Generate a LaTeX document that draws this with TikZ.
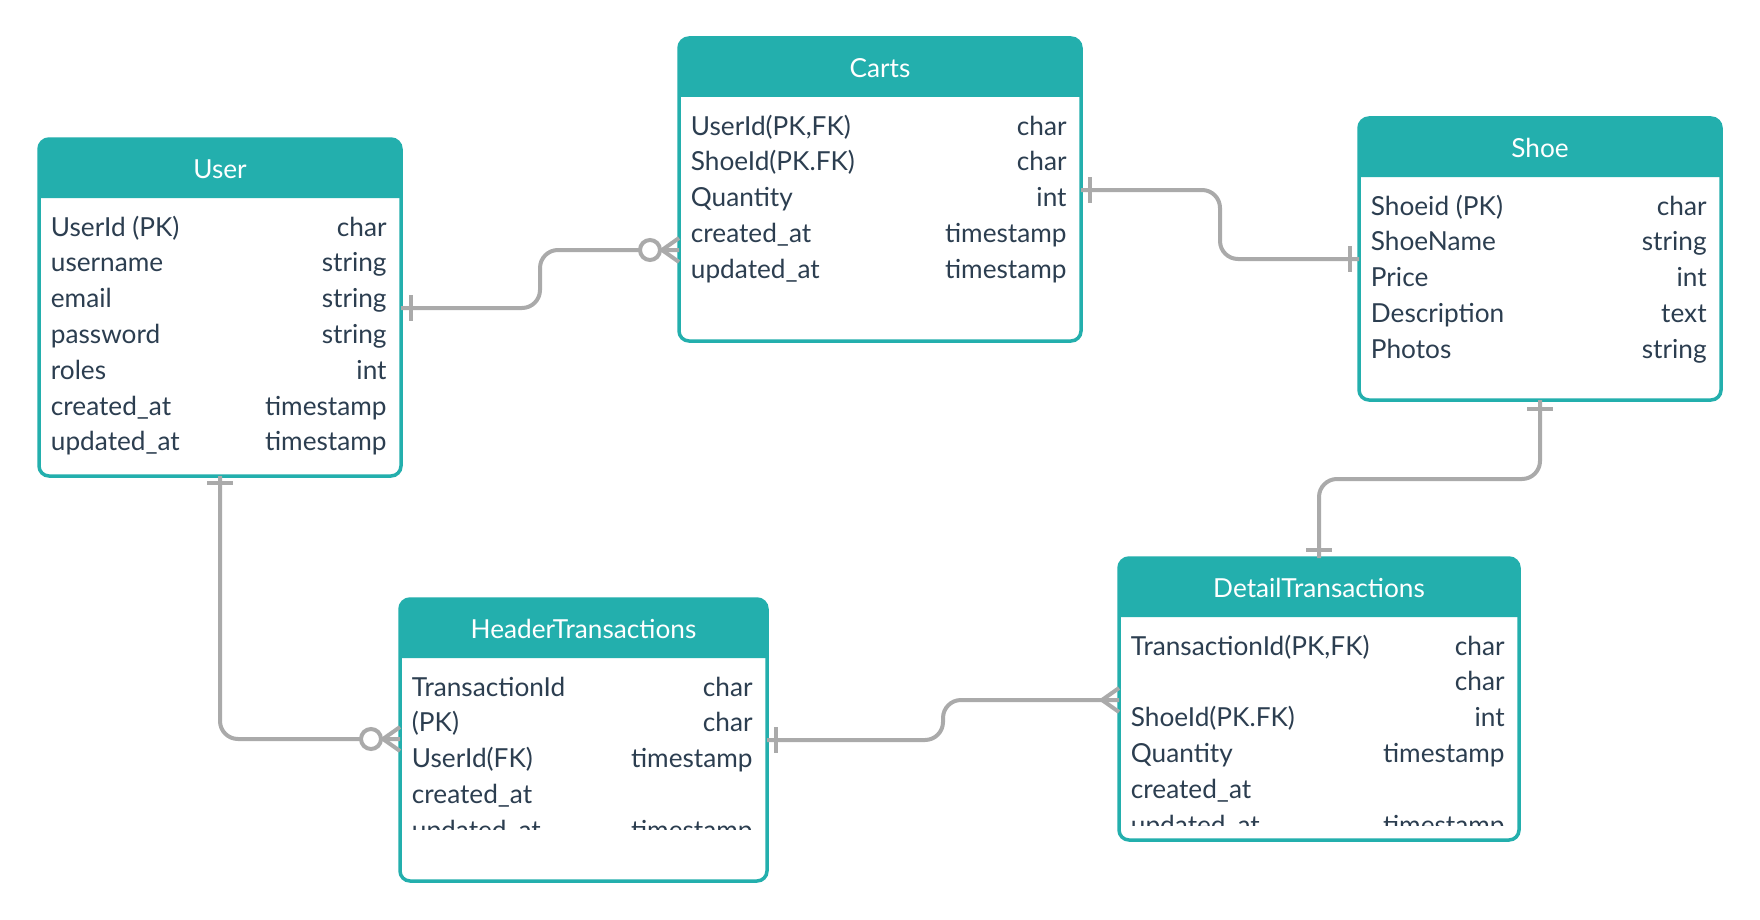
\documentclass[tikz,border=0pt]{standalone}
\usepackage{fontspec}
\setmainfont{Lato}
\usetikzlibrary{calc}
\definecolor{erteal}{RGB}{35,175,173}
\definecolor{ertext}{RGB}{44,62,80}
\definecolor{erline}{RGB}{170,170,170}

% box: name, left, top, right, bottom, title
\newcommand{\entity}[6]{%
  \fill[white] (#2,#3) rectangle (#4,#5);
  \fill[erteal] (#2,#3+59) [rounded corners=5pt] -- (#2,#3) -- (#4,#3) [sharp corners] -- (#4,#3+59) -- cycle;
  \draw[erteal, line width=1.75pt, rounded corners=5pt] (#2,#3) rectangle (#4,#5);
  \node[title] (#1) at ({(#2+#4)/2},#3+30) {#6};
}
% rows: name, left, right, top, clip bottom, list
\newcommand{\fields}[6]{%
  \begin{scope}
    \clip (#2,#4+59) rectangle (#3,#5);
    \foreach \f/\t [count=\i] in {#6} {
      \node[field] (#1-f\i) at (#2+11.5, #4+59+38+35.8*\i-35.8) {\f};
      \node[ftype] (#1-t\i) at (#3-14, #4+59+38+35.8*\i-35.8) {\t};
    }
  \end{scope}
}

\begin{document}
\begin{tikzpicture}[x=0.5pt, y=-0.5pt,
    font=\fontsize{13.1pt}{16pt}\selectfont,
    title/.style={text=white, inner sep=0pt},
    field/.style={text=ertext, inner sep=0pt, anchor=base west},
    ftype/.style={text=ertext, inner sep=0pt, anchor=base east},
    conn/.style={draw=erline, line width=2pt, rounded corners=9pt},
    bar/.style={draw=erline, line width=2pt}]
  \useasboundingbox[fill=white] (0,0) rectangle (1760,920);

  % tables
  \entity{user}{39}{139}{401}{476}{User}
  \fields{user}{39}{401}{139}{476}{{UserId (PK)}/char, username/string, email/string,
    password/string, roles/int, created\_at/timestamp, updated\_at/timestamp}

  \entity{carts}{679}{38}{1081}{341}{Carts}
  \fields{carts}{679}{1081}{38}{341}{{UserId(PK,FK)}/char, {ShoeId(PK.FK)}/char,
    Quantity/int, created\_at/timestamp, updated\_at/timestamp}

  \entity{shoe}{1359}{118}{1721}{400}{Shoe}
  \fields{shoe}{1359}{1721}{118}{400}{{Shoeid (PK)}/char, ShoeName/string, Price/int,
    Description/text, Photos/string}

  \entity{header}{400}{599}{767}{881}{HeaderTransactions}
  \fields{header}{400}{767}{599}{829}{TransactionId/char, (PK)/char, UserId(FK)/timestamp,
    created\_at/{}, updated\_at/timestamp}

  \entity{detail}{1119}{558}{1519}{840}{DetailTransactions}
  \fields{detail}{1119}{1519}{558}{825}{{TransactionId(PK,FK)}/char, {}/char, {ShoeId(PK.FK)}/int,
    Quantity/timestamp, created\_at/{}, updated\_at/timestamp}

  % attach points
  \coordinate (user-r) at (401,308);
  \coordinate (user-b) at (220,476);
  \coordinate (carts-l) at (679,250);
  \coordinate (carts-r) at (1081,190);
  \coordinate (shoe-l) at (1359,259);
  \coordinate (shoe-b) at (1540,400);
  \coordinate (header-l) at (400,739);
  \coordinate (header-r) at (767,740);
  \coordinate (detail-l) at (1119,700);
  \coordinate (detail-t) at (1319,558);
  \coordinate (uc-mid) at ($(user-r)!.5!(carts-l)$);
  \coordinate (cs-mid) at ($(carts-r)!.5!(shoe-l)$);
  \coordinate (hd-mid) at ($(header-r)!.5!(detail-l)$);
  \coordinate (sd-mid) at ($(shoe-b)!.5!(detail-t)$);

  % user -- carts
  \draw[conn] (user-r) -- (uc-mid |- user-r) -- (uc-mid |- carts-l) -- (carts-l);
  \draw[bar] (user-r) ++(10,-13) -- ++(0,26);
  \draw[bar] (carts-l) ++(-17,0) -- ++(17,-12) (carts-l) ++(-17,0) -- ++(17,12);
  \draw[bar, fill=white] (carts-l) ++(-29,0) circle (5pt);

  % carts -- shoe
  \draw[conn] (carts-r) -- (cs-mid |- carts-r) -- (cs-mid |- shoe-l) -- (shoe-l);
  \draw[bar] (carts-r) ++(9,-13) -- ++(0,26);
  \draw[bar] (shoe-l) ++(-9,-13) -- ++(0,26);

  % user -- header
  \draw[conn] (user-b) |- (header-l);
  \draw[bar] (user-b) ++(-13,7) -- ++(26,0);
  \draw[bar] (header-l) ++(-17,0) -- ++(17,-12) (header-l) ++(-17,0) -- ++(17,12);
  \draw[bar, fill=white] (header-l) ++(-29,0) circle (5pt);

  % header -- detail
  \draw[conn] (header-r) -- (hd-mid |- header-r) -- (hd-mid |- detail-l) -- (detail-l);
  \draw[bar] (header-r) ++(9,-13) -- ++(0,26);
  \draw[bar] (detail-l) ++(-17,0) -- ++(17,-12) (detail-l) ++(-17,0) -- ++(17,12);

  % shoe -- detail
  \draw[conn] (shoe-b) -- (shoe-b |- sd-mid) -- (detail-t |- sd-mid) -- (detail-t);
  \draw[bar] (shoe-b) ++(-13,9) -- ++(26,0);
  \draw[bar] (detail-t) ++(-13,-8) -- ++(26,0);
\end{tikzpicture}
\end{document}
